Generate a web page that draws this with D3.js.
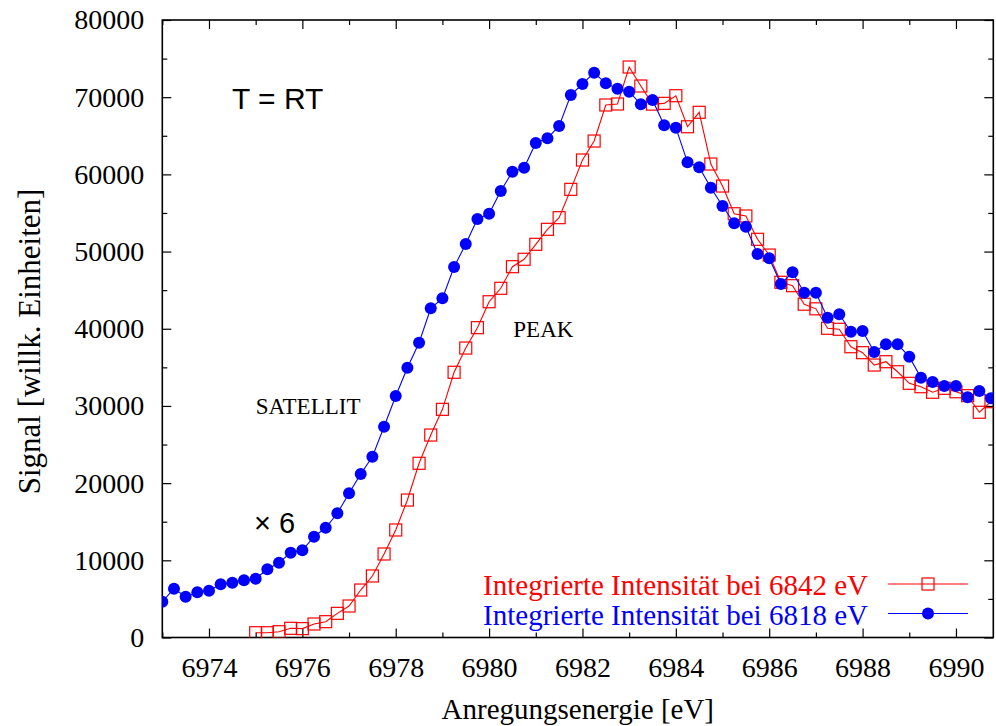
<!DOCTYPE html>
<html>
<head>
<meta charset="utf-8">
<script src="https://cdn.jsdelivr.net/npm/d3@7/dist/d3.min.js"></script>
<style>
  html, body { margin: 0; padding: 0; background: #fff; }
  svg { display: block; }
</style>
</head>
<body>
<svg id="chart" width="996" height="726"></svg>
<script>
// Excitation energies (eV) and integrated signal of the satellite line (6818 eV), scaled x6
const satelliteEnergy = [
  6973.00, 6973.25, 6973.50, 6973.75, 6974.00, 6974.25, 6974.50, 6974.75,
  6975.00, 6975.25, 6975.50, 6975.75, 6976.00, 6976.25, 6976.50, 6976.75,
  6977.00, 6977.25, 6977.50, 6977.75, 6978.00, 6978.25, 6978.50, 6978.75,
  6979.00, 6979.25, 6979.50, 6979.75, 6980.00, 6980.25, 6980.50, 6980.75,
  6981.00, 6981.25, 6981.50, 6981.75, 6982.00, 6982.25, 6982.50, 6982.75,
  6983.00, 6983.25, 6983.50, 6983.75, 6984.00, 6984.25, 6984.50, 6984.75,
  6985.00, 6985.25, 6985.50, 6985.75, 6986.00, 6986.25, 6986.50, 6986.75,
  6987.00, 6987.25, 6987.50, 6987.75, 6988.00, 6988.25, 6988.50, 6988.75,
  6989.00, 6989.25, 6989.50, 6989.75, 6990.00, 6990.25, 6990.50, 6990.75
];
const satelliteSignal = [
  4640, 6320, 5290, 5860, 6060, 6890, 7100, 7410,
  7620, 8840, 9690, 10990, 11300, 13060, 14220, 16090,
  18680, 21180, 23420, 27310, 31290, 34950, 38190, 42650,
  43940, 48000, 50980, 54220, 54900, 57840, 60340, 60860,
  64060, 64670, 66270, 70280, 71710, 73170, 71800, 71100,
  70710, 69080, 69640, 66360, 66050, 61560, 60920, 58270,
  55900, 53660, 53220, 49680, 49130, 45800, 47310, 44670,
  44670, 41430, 41870, 39620, 39710, 36990, 37990, 37990,
  36380, 33660, 33100, 32580, 32580, 31120, 31930, 30990
];

// Excitation energies (eV) and integrated signal of the main line (6842 eV)
const peakEnergy = [
  6975.00, 6975.25, 6975.50, 6975.75, 6976.00, 6976.25, 6976.50, 6976.75,
  6977.00, 6977.25, 6977.50, 6977.75, 6978.00, 6978.25, 6978.50, 6978.75,
  6979.00, 6979.25, 6979.50, 6979.75, 6980.00, 6980.25, 6980.50, 6980.75,
  6981.00, 6981.25, 6981.50, 6981.75, 6982.00, 6982.25, 6982.50, 6982.75,
  6983.00, 6983.25, 6983.50, 6983.75, 6984.00, 6984.25, 6984.50, 6984.75,
  6985.00, 6985.25, 6985.50, 6985.75, 6986.00, 6986.25, 6986.50, 6986.75,
  6987.00, 6987.25, 6987.50, 6987.75, 6988.00, 6988.25, 6988.50, 6988.75,
  6989.00, 6989.25, 6989.50, 6989.75, 6990.00, 6990.25, 6990.50, 6990.75,
  6991.00
];
const peakSignal = [
  620, 620, 750, 1190, 1150, 1750, 2050, 3130,
  4080, 6150, 7970, 10820, 13930, 17810, 22570, 26230,
  29560, 34360, 37500, 40140, 43500, 45240, 48040, 49000,
  50940, 52880, 54390, 58060, 61860, 64320, 68990, 69120,
  73910, 71450, 69100, 69200, 70190, 66170, 68040, 61340,
  58490, 54900, 54610, 51590, 49550, 46020, 45580, 43180,
  42580, 40060, 39930, 37670, 36900, 35300, 35730, 34430,
  32930, 32490, 31770, 32280, 31840, 31330, 29180, 30550,
  30300
];

// Axis ticks
const xMajorTicks = [6974, 6976, 6978, 6980, 6982, 6984, 6986, 6988, 6990];
const xMinorTicks = [6973, 6975, 6977, 6979, 6981, 6983, 6985, 6987, 6989];
const yMajorTicks = [0, 10000, 20000, 30000, 40000, 50000, 60000, 70000, 80000];
const yMinorTicks = [5000, 15000, 25000, 35000, 45000, 55000, 65000, 75000];

const seriesNames = ["Integrierte Intensität bei 6842 eV", "Integrierte Intensität bei 6818 eV"];
const seriesColors = ["#ff0000", "#0000ff"];

const SERIF = '"Liberation Serif", "Times New Roman", serif';
const SANS = '"Liberation Sans", Arial, sans-serif';

const plot = { left: 162.3, right: 993.3, top: 20, bottom: 637.5 };

const svg = d3.select("#chart");

const x = d3.scaleLinear().domain([6973, 6990.8]).range([plot.left, plot.right]);
const y = d3.scaleLinear().domain([0, 80000]).range([plot.bottom, plot.top]);

const tickFont = 28;

function styleAxis(g) {
  g.select(".domain").remove();
  g.style("font-family", SERIF);
  g.selectAll(".tick line").attr("stroke", "#000").attr("stroke-width", 1.2);
  g.selectAll(".tick text")
    .style("font-family", SERIF)
    .style("font-size", tickFont + "px")
    .attr("fill", "#000");
}

// bottom axis: major labelled ticks and minor ticks, pointing inward
svg.append("g")
  .attr("transform", `translate(0,${plot.bottom})`)
  .call(d3.axisBottom(x).tickValues(xMajorTicks).tickSize(-9).tickPadding(20).tickFormat(d3.format("d")))
  .call(styleAxis);
svg.append("g")
  .attr("transform", `translate(0,${plot.bottom})`)
  .call(d3.axisBottom(x).tickValues(xMinorTicks).tickSize(-5).tickFormat(""))
  .call(styleAxis);
// top mirror
svg.append("g")
  .attr("transform", `translate(0,${plot.top})`)
  .call(d3.axisTop(x).tickValues(xMajorTicks).tickSize(-9).tickFormat(""))
  .call(styleAxis);
svg.append("g")
  .attr("transform", `translate(0,${plot.top})`)
  .call(d3.axisTop(x).tickValues(xMinorTicks).tickSize(-5).tickFormat(""))
  .call(styleAxis);

// left axis
svg.append("g")
  .attr("transform", `translate(${plot.left},0)`)
  .call(d3.axisLeft(y).tickValues(yMajorTicks).tickSize(-9).tickPadding(18).tickFormat(d3.format("d")))
  .call(styleAxis);
svg.append("g")
  .attr("transform", `translate(${plot.left},0)`)
  .call(d3.axisLeft(y).tickValues(yMinorTicks).tickSize(-5).tickFormat(""))
  .call(styleAxis);
// right mirror
svg.append("g")
  .attr("transform", `translate(${plot.right},0)`)
  .call(d3.axisRight(y).tickValues(yMajorTicks).tickSize(-9).tickFormat(""))
  .call(styleAxis);
svg.append("g")
  .attr("transform", `translate(${plot.right},0)`)
  .call(d3.axisRight(y).tickValues(yMinorTicks).tickSize(-5).tickFormat(""))
  .call(styleAxis);

// frame
svg.append("rect")
  .attr("x", plot.left).attr("y", plot.top)
  .attr("width", plot.right - plot.left).attr("height", plot.bottom - plot.top)
  .attr("fill", "none").attr("stroke", "#000").attr("stroke-width", 1.6);

// axis titles
svg.append("text")
  .style("font-family", SERIF)
  .attr("x", (plot.left + plot.right) / 2).attr("y", 719)
  .attr("text-anchor", "middle").style("font-size", "29px")
  .text("Anregungsenergie [eV]");
svg.append("text")
  .style("font-family", SERIF)
  .attr("transform", "translate(40,341.5) rotate(-90)")
  .attr("text-anchor", "middle").style("font-size", "31px")
  .text("Signal [willk. Einheiten]");

// data
svg.append("clipPath").attr("id", "plotClip")
  .append("rect")
  .attr("x", plot.left).attr("y", plot.top)
  .attr("width", plot.right - plot.left).attr("height", plot.bottom - plot.top);

const data = [
  peakEnergy.map((e, i) => ({ e, v: peakSignal[i] })),
  satelliteEnergy.map((e, i) => ({ e, v: satelliteSignal[i] }))
];

const line = d3.line().x(d => x(d.e)).y(d => y(d.v));
const layer = svg.append("g").attr("clip-path", "url(#plotClip)");

const sq = 12;
const circleR = 6;

data.forEach((series, si) => {
  layer.append("path")
    .datum(series)
    .attr("d", line)
    .attr("fill", "none")
    .attr("stroke", seriesColors[si])
    .attr("stroke-width", 1.1);
  if (si === 0) {
    layer.selectAll(null)
      .data(series.filter(d => d.e <= 6990.8))
      .join("rect")
      .attr("x", d => x(d.e) - sq / 2).attr("y", d => y(d.v) - sq / 2)
      .attr("width", sq).attr("height", sq)
      .attr("fill", "none").attr("stroke", seriesColors[si]).attr("stroke-width", 1.2);
  } else {
    layer.selectAll(null)
      .data(series)
      .join("circle")
      .attr("cx", d => x(d.e)).attr("cy", d => y(d.v)).attr("r", circleR)
      .attr("fill", seriesColors[si]);
  }
});

// legend
const legendRows = [584, 613.5];
seriesNames.forEach((name, i) => {
  const ly = legendRows[i];
  svg.append("text")
    .style("font-family", SERIF)
    .attr("x", 868).attr("y", ly + 11)
    .attr("text-anchor", "end").style("font-size", "29px")
    .attr("fill", seriesColors[i])
    .text(name);
  svg.append("line")
    .attr("x1", 888).attr("x2", 968).attr("y1", ly).attr("y2", ly)
    .attr("stroke", seriesColors[i]).attr("stroke-width", 1.1);
  if (i === 0) {
    svg.append("rect")
      .attr("x", 928 - sq / 2).attr("y", ly - sq / 2).attr("width", sq).attr("height", sq)
      .attr("fill", "none").attr("stroke", seriesColors[i]).attr("stroke-width", 1.2);
  } else {
    svg.append("circle").attr("cx", 928).attr("cy", ly).attr("r", circleR)
      .attr("fill", seriesColors[i]);
  }
});

// annotations
svg.append("text").style("font-family", SANS)
  .attr("x", 232).attr("y", 109).style("font-size", "30px")
  .text("T = RT");
svg.append("text").style("font-family", SERIF)
  .attr("x", 255.7).attr("y", 414).style("font-size", "23px")
  .text("SATELLIT");
svg.append("text").style("font-family", SERIF)
  .attr("x", 513.3).attr("y", 336.7).style("font-size", "23px")
  .text("PEAK");
svg.append("text").style("font-family", SANS)
  .attr("x", 254).attr("y", 533.3).style("font-size", "29px")
  .text("× 6");
</script>
</body>
</html>
